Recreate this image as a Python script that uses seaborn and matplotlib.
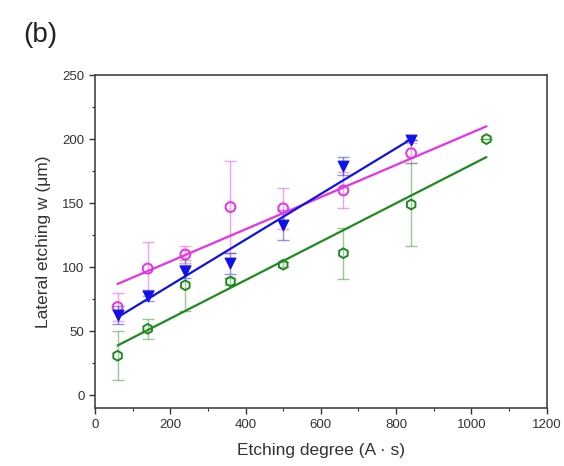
import numpy as np
import pandas as pd
import matplotlib
matplotlib.use("Agg")
import matplotlib.pyplot as plt
import seaborn as sns

x_short = [60, 140, 240, 360, 500, 660, 840]
x_long = [60, 140, 240, 360, 500, 660, 840, 1040]

pink_y = [69, 99, 110, 147, 146, 160, 189]
pink_err = [11, 21, 7, 36, 16, 14, 8]

blue_y = [63, 78, 97, 103, 133, 179, 199]
blue_err = [7, 4, 5, 8, 12, 7, 0]

green_y = [31, 52, 86, 89, 102, 111, 149, 200]
green_err = [19, 8, 20, 3, 2, 20, 32, 0]

# linear fit lines (end points)
pink_fit_x = [60, 1040]
pink_fit_y = [87, 210]
blue_fit_x = [60, 840]
blue_fit_y = [61, 200]
green_fit_x = [60, 1040]
green_fit_y = [39, 186]

sns.set_style("ticks")
plt.rcParams["font.family"] = ["Liberation Sans", "DejaVu Sans"]

fig = plt.figure(figsize=(5.64, 4.66), dpi=100)
ax = fig.add_axes([0.1684, 0.1238, 0.8009, 0.7152])

pink = "#e830e8"
blue = "#1010e8"
green = "#1f8a1f"

series = [
    (x_short, pink_y, pink_err, pink, "o", pink_fit_x, pink_fit_y),
    (x_short, blue_y, blue_err, blue, "v", blue_fit_x, blue_fit_y),
    (x_long, green_y, green_err, green, "h", green_fit_x, green_fit_y),
]

for xs, ys, es, col, mk, fx, fy in series:
    ax.errorbar(xs, ys, yerr=es, fmt="none", ecolor=col, alpha=0.45,
                elinewidth=1.0, capsize=4, capthick=1.0, zorder=2)
    sns.lineplot(x=fx, y=fy, color=col, lw=1.6, ax=ax, zorder=3)
    if mk == "v":
        sns.scatterplot(x=xs, y=ys, marker=mk, s=60, color=col,
                        edgecolor=col, linewidth=0.8, ax=ax, zorder=4)
    else:
        sns.scatterplot(x=xs, y=ys, marker=mk, s=50, facecolor="none",
                        edgecolor=col, linewidth=1.4, ax=ax, zorder=4)

ax.set_xlim(0, 1200)
ax.set_ylim(-10, 250)
ax.set_xticks(np.arange(0, 1201, 200))
ax.set_xticks(np.arange(0, 1201, 100), minor=True)
ax.set_yticks(np.arange(0, 251, 50))
ax.set_yticks(np.arange(0, 251, 25), minor=True)
ax.tick_params(which="major", direction="out", length=4, width=1,
               labelsize=9.5, color="#333333", labelcolor="#333333")
ax.tick_params(which="minor", direction="out", length=2.5, width=0.8,
               color="#333333")
for sp in ax.spines.values():
    sp.set_color("#444444")
    sp.set_linewidth(1.2)

ax.set_xlabel("Etching degree (A · s)", fontsize=12.5, color="#333333",
              labelpad=9)
ax.set_ylabel("Lateral etching w (μm)", fontsize=12.5, color="#333333",
              labelpad=8)
fig.text(0.042, 0.91, "(b)", fontsize=20, color="#222222")

fig.savefig("out.png", dpi=100)
